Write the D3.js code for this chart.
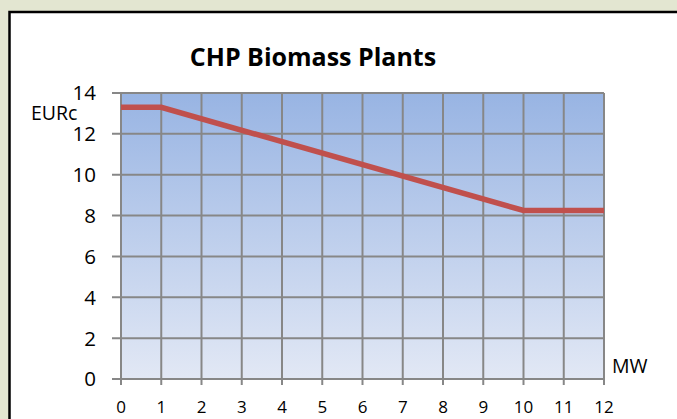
<!DOCTYPE html>
<html>
<head>
<meta charset="utf-8">
<script src="https://cdn.jsdelivr.net/npm/d3@7"></script>
<style>
  html, body { margin: 0; padding: 0; background: #e3e6d1; }
  svg { display: block; font-family: "Open Sans", sans-serif; }
</style>
</head>
<body>
<svg id="chart" width="677" height="419"></svg>
<script>
// chart data
const title = "CHP Biomass Plants";
const capacityMW = [0, 1, 10, 12];
const tariffEURc = [13.3, 13.3, 8.25, 8.25];
const xTicks = [0, 1, 2, 3, 4, 5, 6, 7, 8, 9, 10, 11, 12];
const yTicks = [0, 2, 4, 6, 8, 10, 12, 14];

const svg = d3.select("#chart");

// white chart box, runs off the right and bottom edges
svg.append("rect")
    .attr("x", 9.5).attr("y", 12)
    .attr("width", 700).attr("height", 440)
    .attr("fill", "white")
    .attr("stroke", "black")
    .attr("stroke-width", 2.5);

const plot = {left: 121, top: 93, right: 604, bottom: 379};

const x = d3.scaleLinear().domain([0, 12]).range([plot.left, plot.right]);
const y = d3.scaleLinear().domain([0, 14]).range([plot.bottom, plot.top]);

// plot area gradient
const grad = svg.append("defs").append("linearGradient")
    .attr("id", "bg").attr("x1", 0).attr("y1", 0).attr("x2", 0).attr("y2", 1);
grad.append("stop").attr("offset", "0%").attr("stop-color", "#98b4e3");
grad.append("stop").attr("offset", "100%").attr("stop-color", "#e2e8f5");

svg.append("rect")
    .attr("x", plot.left).attr("y", plot.top)
    .attr("width", plot.right - plot.left)
    .attr("height", plot.bottom - plot.top)
    .attr("fill", "url(#bg)");

const gridColor = "#878787";

// grid
svg.append("g").selectAll("line.v")
    .data(xTicks)
    .join("line")
    .attr("x1", d => x(d)).attr("x2", d => x(d))
    .attr("y1", plot.top).attr("y2", plot.bottom + 6)
    .attr("stroke", gridColor).attr("stroke-width", 2);

svg.append("g").selectAll("line.h")
    .data(yTicks)
    .join("line")
    .attr("x1", plot.left - 9).attr("x2", plot.right)
    .attr("y1", d => y(d)).attr("y2", d => y(d))
    .attr("stroke", gridColor).attr("stroke-width", 2);

// tick labels
svg.append("g").selectAll("text")
    .data(yTicks)
    .join("text")
    .attr("x", 96)
    .attr("y", d => y(d))
    .attr("dy", "0.36em")
    .attr("text-anchor", "end")
    .attr("font-size", 20.5)
    .attr("fill", "#000")
    .text(d => d);

svg.append("g").selectAll("text")
    .data(xTicks)
    .join("text")
    .attr("x", d => x(d))
    .attr("y", 413)
    .attr("text-anchor", "middle")
    .attr("font-size", 17)
    .attr("fill", "#000")
    .text(d => d);

// series line
const line = d3.line()
    .x((d, i) => x(capacityMW[i]))
    .y(d => y(d));

svg.append("path")
    .datum(tariffEURc)
    .attr("d", line)
    .attr("fill", "none")
    .attr("stroke", "#c0504d")
    .attr("stroke-width", 5.5)
    .attr("stroke-linejoin", "miter");

// titles
svg.append("text")
    .attr("x", 313).attr("y", 66)
    .attr("text-anchor", "middle")
    .attr("font-size", 25)
    .attr("font-weight", 700)
    .text(title);

svg.append("text")
    .attr("x", 31).attr("y", 120)
    .attr("font-size", 19.5)
    .text("EURc");

svg.append("text")
    .attr("x", 612).attr("y", 373)
    .attr("font-size", 19.5)
    .text("MW");
</script>
</body>
</html>
